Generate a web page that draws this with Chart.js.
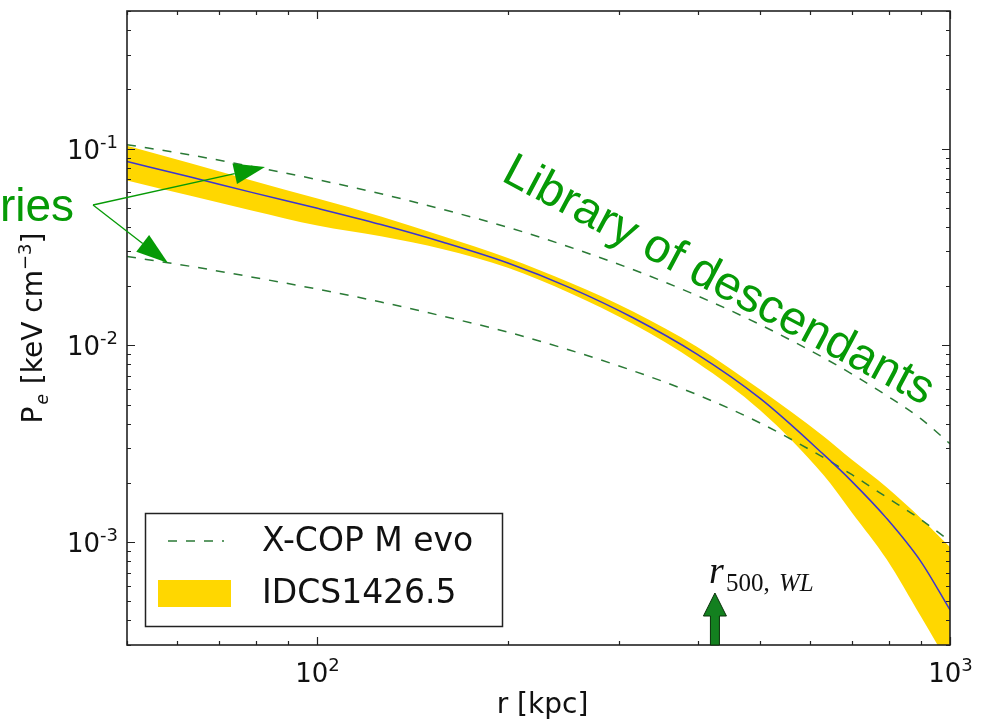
<!DOCTYPE html>
<html>
<head>
<meta charset="utf-8">
<script src="https://cdn.jsdelivr.net/npm/chart.js@4.4.1/dist/chart.umd.min.js"></script>
<style>
  html, body { margin: 0; padding: 0; background: #fff; }
</style>
</head>
<body>
<canvas id="myChart" width="981" height="723"></canvas>
<script>
// radius grid [kpc]
let radii = [50, 63, 79, 100, 126, 158, 200, 251, 316, 398, 501, 631, 700, 794, 900, 1000];
// IDCS1426.5 pressure profile [keV cm^-3]
let idcsMedian = [0.0859, 0.0716, 0.0597, 0.0497, 0.0411, 0.0334, 0.0262, 0.0196, 0.01377, 0.00902, 0.00537, 0.00279, 0.00203, 0.00132, 0.000794, 0.000452];
let idcsUpper  = [0.1033, 0.0841, 0.0686, 0.0557, 0.0451, 0.0358, 0.0278, 0.0208, 0.01483, 0.00984, 0.00596, 0.00345, 0.00262, 0.00190, 0.00132, 0.000944];
let idcsLower  = [0.0689, 0.0575, 0.0483, 0.0406, 0.0358, 0.0308, 0.0248, 0.0184, 0.0128, 0.00818, 0.00468, 0.00219, 0.00141, 0.000818, 0.000417, 0.000234];
// X-COP M evo envelope
let xcopUpper = [0.1047, 0.0927, 0.0809, 0.0695, 0.0589, 0.0490, 0.0398, 0.0315, 0.0242, 0.0179, 0.01274, 0.00865, 0.00714, 0.00556, 0.00423, 0.00316];
let xcopLower = [0.0283, 0.0252, 0.0222, 0.0193, 0.0166, 0.01406, 0.01167, 0.00944, 0.00741, 0.00562, 0.00403, 0.00269, 0.0022, 0.00169, 0.0013, 0.00101];

let xRange = [50, 1000];
let yRange = [3e-4, 0.5];
let r500WL = 425;

let pts = (vals) => radii.map((r, i) => ({ x: r, y: vals[i] }));

const GOLD = '#FFD700';
const BLUE = '#3b35d0';
const DASH = '#2a7a36';
const ANNO = '#069a06';
const SANS = '"DejaVu Sans", sans-serif';

function logTicks(min, max) {
  let out = [];
  for (let k = Math.floor(Math.log10(min)); k <= Math.ceil(Math.log10(max)); k++) {
    for (let m = 1; m <= 9; m++) {
      let v = m * Math.pow(10, k);
      if (v >= min * 0.999 && v <= max * 1.001) out.push({ v: v, major: m === 1, k: k });
    }
  }
  return out;
}

function powLabel(ctx, cx, baseY, exp, align) {
  ctx.font = '26px ' + SANS;
  let w1 = ctx.measureText('10').width;
  ctx.font = '18px ' + SANS;
  let w2 = ctx.measureText(exp).width;
  let x0 = align === 'right' ? cx - w1 - w2 : cx - (w1 + w2) / 2;
  ctx.textAlign = 'left';
  ctx.textBaseline = 'alphabetic';
  ctx.font = '26px ' + SANS;
  ctx.fillText('10', x0, baseY);
  ctx.font = '18px ' + SANS;
  ctx.fillText(exp, x0 + w1, baseY - 11);
}

function arrowHead(ctx, x0, y0, tx, ty, len, wid) {
  let dx = tx - x0, dy = ty - y0, d = Math.hypot(dx, dy);
  let ux = dx / d, uy = dy / d;
  let bx = tx - ux * len, by = ty - uy * len;
  ctx.beginPath();
  ctx.moveTo(x0, y0);
  ctx.lineTo(bx, by);
  ctx.stroke();
  ctx.beginPath();
  ctx.moveTo(tx, ty);
  ctx.lineTo(bx - uy * wid / 2, by + ux * wid / 2);
  ctx.lineTo(bx + uy * wid / 2, by - ux * wid / 2);
  ctx.closePath();
  ctx.fill();
}

const frame = {
  id: 'frame',
  afterDraw(chart) {
    const { ctx, chartArea: a, scales: { x, y } } = chart;
    ctx.save();
    ctx.fillStyle = '#111';
    ctx.strokeStyle = '#222';

    // ticks, inward on all four sides
    ctx.lineWidth = 1.2;
    logTicks(xRange[0], xRange[1]).forEach(t => {
      let px = Math.round(x.getPixelForValue(t.v)) + 0.5;
      let len = t.major ? 8 : 4;
      ctx.beginPath();
      ctx.moveTo(px, a.bottom); ctx.lineTo(px, a.bottom - len);
      ctx.moveTo(px, a.top); ctx.lineTo(px, a.top + len);
      ctx.stroke();
      if (t.major) powLabel(ctx, px, a.bottom + 37, String(t.k), 'center');
    });
    logTicks(yRange[0], yRange[1]).forEach(t => {
      let py = Math.round(y.getPixelForValue(t.v)) + 0.5;
      let len = t.major ? 8 : 4;
      ctx.beginPath();
      ctx.moveTo(a.left, py); ctx.lineTo(a.left + len, py);
      ctx.moveTo(a.right, py); ctx.lineTo(a.right - len, py);
      ctx.stroke();
      if (t.major) powLabel(ctx, a.left - 9, py + 9, String(t.k), 'right');
    });

    // frame
    ctx.lineWidth = 1.6;
    ctx.strokeRect(a.left, a.top, a.right - a.left, a.bottom - a.top);

    // axis titles
    ctx.fillStyle = '#111';
    ctx.font = '28px ' + SANS;
    ctx.textAlign = 'center';
    ctx.textBaseline = 'alphabetic';
    ctx.fillText('r [kpc]', (a.left + a.right) / 2 + 4, 713);

    ctx.save();
    ctx.translate(42, 328);
    ctx.rotate(-Math.PI / 2);
    let parts = [
      ['P', '28px ' + SANS, 0],
      ['e', 'italic 17px ' + SANS, 6],
      [' [keV cm', '28px ' + SANS, 0],
      ['\u22123', '18px ' + SANS, -11],
      [']', '28px ' + SANS, 0]
    ];
    let tot = 0;
    parts.forEach(p => { ctx.font = p[1]; tot += ctx.measureText(p[0]).width + (p[0] === 'e' ? 3 : 0); });
    let cx = -tot / 2;
    ctx.textAlign = 'left';
    parts.forEach(p => {
      ctx.font = p[1];
      if (p[0] === 'e') cx += 2;
      ctx.fillText(p[0], cx, p[2]);
      cx += ctx.measureText(p[0]).width + (p[0] === 'e' ? 1 : 0);
    });
    ctx.restore();

    // legend
    ctx.fillStyle = '#fff';
    ctx.fillRect(145, 513, 358, 114);
    ctx.lineWidth = 1.5;
    ctx.strokeStyle = '#222';
    ctx.strokeRect(145.5, 513.5, 357, 113);
    ctx.strokeStyle = DASH;
    ctx.lineWidth = 1.5;
    ctx.setLineDash([9, 9]);
    ctx.beginPath();
    ctx.moveTo(168, 541); ctx.lineTo(224, 541);
    ctx.stroke();
    ctx.setLineDash([]);
    ctx.fillStyle = GOLD;
    ctx.fillRect(158, 580, 73, 27);
    ctx.fillStyle = '#111';
    ctx.font = '33px ' + SANS;
    ctx.textAlign = 'left';
    ctx.textBaseline = 'middle';
    ctx.fillText('X-COP M evo', 262, 542);
    ctx.fillText('IDCS1426.5', 262, 594);

    // r500,WL marker
    let ax = x.getPixelForValue(r500WL);
    let b = a.bottom;
    ctx.beginPath();
    ctx.moveTo(ax - 4.5, b);
    ctx.lineTo(ax - 4.5, b - 29);
    ctx.lineTo(ax - 11.5, b - 29);
    ctx.lineTo(ax, b - 52);
    ctx.lineTo(ax + 11.5, b - 29);
    ctx.lineTo(ax + 4.5, b - 29);
    ctx.lineTo(ax + 4.5, b);
    ctx.closePath();
    ctx.fillStyle = '#13801f';
    ctx.fill();
    ctx.strokeStyle = '#0a300a';
    ctx.lineWidth = 1;
    ctx.stroke();
    ctx.fillStyle = '#111';
    ctx.textBaseline = 'alphabetic';
    ctx.font = 'italic 38px "Liberation Serif", serif';
    ctx.fillText('r', ax - 6, b - 62);
    ctx.font = '25px "Liberation Serif", serif';
    ctx.fillText('500,', ax + 11, b - 54);
    ctx.font = 'italic 25px "Liberation Serif", serif';
    ctx.fillText('WL', ax + 64, b - 54);

    // annotations
    ctx.fillStyle = ANNO;
    ctx.strokeStyle = ANNO;
    ctx.lineWidth = 1.3;
    arrowHead(ctx, 93, 205, 265, 167, 31, 21);
    arrowHead(ctx, 93, 205, 168, 263, 32, 21);
    ctx.font = '46px "Liberation Sans", sans-serif';
    ctx.textAlign = 'right';
    ctx.fillText('ries', 74, 221);
    ctx.save();
    ctx.translate(500, 180);
    ctx.rotate(28 * Math.PI / 180);
    ctx.textAlign = 'left';
    ctx.font = '47.5px "Liberation Sans", sans-serif';
    ctx.fillText('Library of descendants', 0, 0);
    ctx.restore();

    ctx.restore();
  }
};

const ctx = document.getElementById('myChart').getContext('2d');
const myChart = new Chart(ctx, {
  type: 'line',
  data: {
    datasets: [
      { label: 'IDCS1426.5', data: pts(idcsUpper), fill: '+1', backgroundColor: GOLD, borderWidth: 0, pointRadius: 0, cubicInterpolationMode: 'monotone', order: 3 },
      { label: 'lower', data: pts(idcsLower), fill: false, borderWidth: 0, pointRadius: 0, cubicInterpolationMode: 'monotone', order: 3 },
      { label: 'median', data: pts(idcsMedian), borderColor: BLUE, borderWidth: 1.5, pointRadius: 0, fill: false, cubicInterpolationMode: 'monotone', order: 1 },
      { label: 'X-COP M evo', data: pts(xcopUpper), borderColor: DASH, borderWidth: 1.5, borderDash: [9, 9], pointRadius: 0, fill: false, cubicInterpolationMode: 'monotone', order: 2 },
      { label: 'X-COP low', data: pts(xcopLower), borderColor: DASH, borderWidth: 1.5, borderDash: [9, 9], pointRadius: 0, fill: false, cubicInterpolationMode: 'monotone', order: 2 }
    ]
  },
  options: {
    responsive: false,
    animation: false,
    devicePixelRatio: 1,
    layout: { padding: { left: 127, top: 11, right: 31, bottom: 78 } },
    plugins: { legend: { display: false }, tooltip: { enabled: false } },
    scales: {
      x: { type: 'logarithmic', min: xRange[0], max: xRange[1], display: false },
      y: { type: 'logarithmic', min: yRange[0], max: yRange[1], display: false }
    }
  },
  plugins: [frame]
});
</script>
</body>
</html>
